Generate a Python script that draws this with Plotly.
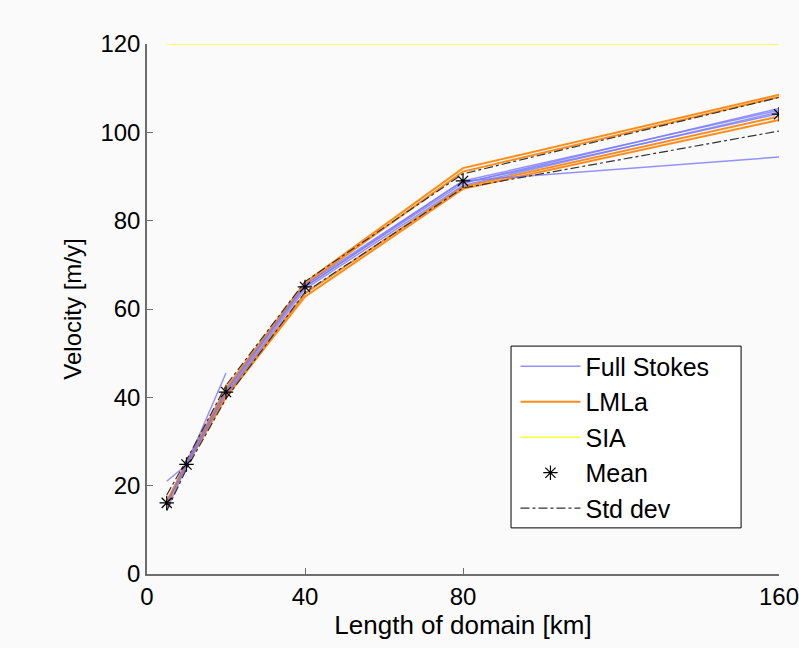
import plotly.graph_objects as go

x_km = [5, 10, 20, 40, 80, 160]

# Full Stokes models (None = not computed)
fs_models = [
    [14.5, 24.5, 41.0, 65.0, 88.5, 104.2],
    [16.0, 25.0, 41.5, 65.5, 89.0, 105.0],
    [None, None, 40.5, 64.5, 88.0, 104.6],
    [21.0, 24.7, 45.5, None, None, None],
    [None, None, None, 65.0, 89.0, 94.4],
    [None, None, None, None, 88.5, 105.4],
]

# LMLa models
lmla_models = [
    [16.0, 25.5, 42.0, 66.0, 91.9, 108.5],
    [15.5, 25.0, 41.5, 65.5, 91.1, 108.0],
    [16.0, 24.5, 40.0, 62.8, 87.2, 102.8],
    [16.5, 25.0, 40.5, 63.5, 87.7, 103.6],
]

sia_values = [120, 120, 120, 120, 120, 120]

mean_values = [16.1, 24.8, 41.2, 65.0, 89.0, 104.1]
std_values = [1.8, 1.0, 1.5, 1.2, 1.6, 3.8]

x_ticks = [0, 40, 80, 160]
y_ticks = [0, 20, 40, 60, 80, 100, 120]

BLUE = "rgba(120,120,255,0.8)"
ORANGE = "rgba(255,128,0,0.9)"
YELLOW = "#ffff33"
FONT = "Liberation Sans, Arial, sans-serif"

fig = go.Figure()

for i, ys in enumerate(lmla_models):
    fig.add_trace(go.Scatter(x=x_km, y=ys, mode="lines", name="LMLa",
                             line=dict(color=ORANGE, width=2),
                             showlegend=(i == 0), legendrank=2))

for i, ys in enumerate(fs_models):
    fig.add_trace(go.Scatter(x=x_km, y=ys, mode="lines", name="Full Stokes",
                             line=dict(color=BLUE, width=1.5),
                             showlegend=(i == 0), legendrank=1, connectgaps=False))

fig.add_trace(go.Scatter(x=x_km, y=sia_values, mode="lines", name="SIA",
                         line=dict(color=YELLOW, width=1.5), legendrank=3))

upper = [m + s for m, s in zip(mean_values, std_values)]
lower = [m - s for m, s in zip(mean_values, std_values)]
fig.add_trace(go.Scatter(x=x_km, y=upper, mode="lines", name="Std dev",
                         line=dict(color="#333333", width=1.2, dash="dashdot"),
                         legendrank=5))
fig.add_trace(go.Scatter(x=x_km, y=lower, mode="lines", name="Std dev",
                         line=dict(color="#333333", width=1.2, dash="dashdot"),
                         showlegend=False, legendrank=5))

fig.add_trace(go.Scatter(x=x_km, y=mean_values, mode="markers", name="Mean",
                         marker=dict(symbol="asterisk-open", size=12, color="black",
                                     line=dict(color="black", width=1.2)),
                         legendrank=4))

axis_common = dict(
    showgrid=False, zeroline=False, showline=True, linecolor="#6e6e6e", linewidth=1.5,
    ticks="inside", ticklen=6, tickwidth=1, tickcolor="#6e6e6e",
    tickfont=dict(family=FONT, size=24, color="black"),
    ticklabeloverflow="allow", automargin=False,
)

fig.update_layout(
    width=799, height=648,
    margin=dict(l=147, r=20, t=44, b=74),
    paper_bgcolor="#fafafa", plot_bgcolor="#fafafa",
    font=dict(family=FONT, color="black"),
    xaxis=dict(range=[0, 160], tickvals=x_ticks, **axis_common,
               title=dict(text="Length of domain [km]", font=dict(size=26, family=FONT), standoff=4)),
    yaxis=dict(range=[0, 120], tickvals=y_ticks, **axis_common,
               title=dict(text="Velocity [m/y]", font=dict(size=24, family=FONT), standoff=12)),
    legend=dict(x=0.583, y=0.435, xanchor="left", yanchor="top",
                bgcolor="rgba(0,0,0,0)", borderwidth=0,
                font=dict(family=FONT, size=25, color="black"),
                itemwidth=60, tracegroupgap=0),
    shapes=[dict(type="rect", xref="paper", yref="paper",
                 x0=0.576, x1=0.940, y0=0.087, y1=0.430,
                 fillcolor="white", line=dict(color="black", width=1), layer="above")],
    showlegend=True,
)

fig.write_html("out.html")
